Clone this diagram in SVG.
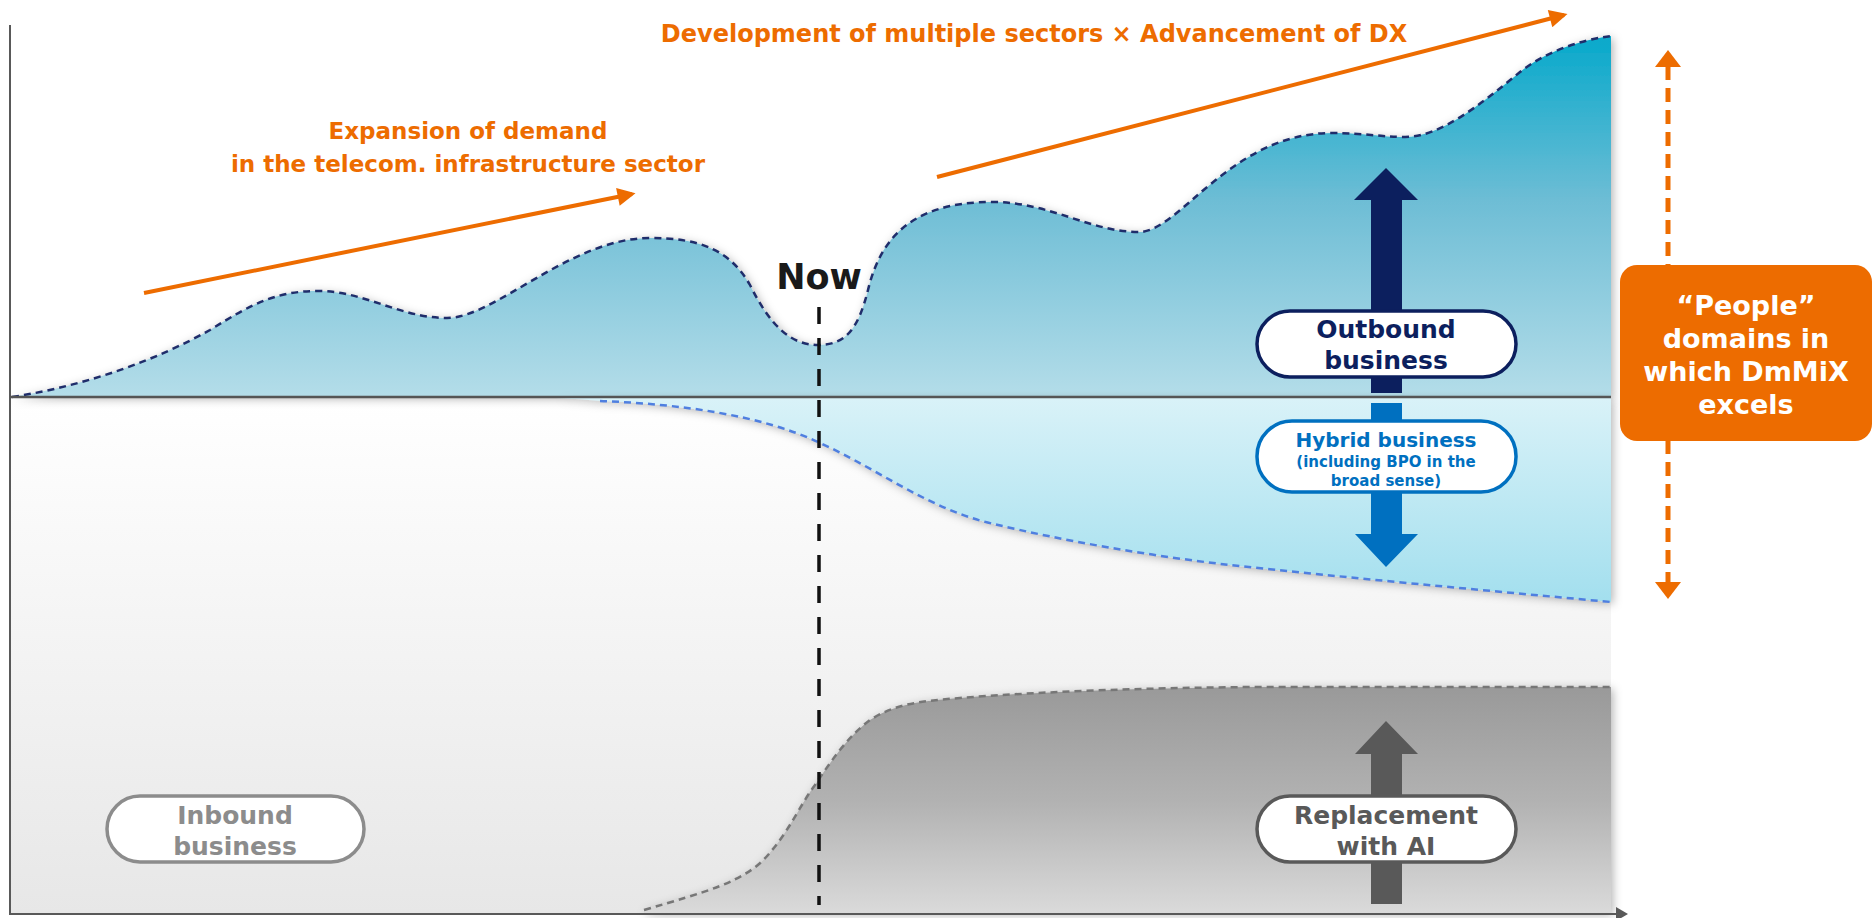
<svg xmlns="http://www.w3.org/2000/svg" width="1873" height="918" viewBox="0 0 1873 918">
<style>
text{font-family:"DejaVu Sans","Liberation Sans",sans-serif;font-weight:bold}
.orange{fill:#ed6c00}
.node-text{font-size:25px;text-anchor:middle}
.pill{fill:#ffffff;stroke-width:3.5}
.axis{stroke:#595959;stroke-width:2;fill:none}
</style>
<defs>
<linearGradient id="gUp" gradientUnits="userSpaceOnUse" x1="0" y1="38" x2="0" y2="397">
<stop offset="0" stop-color="#08a9cb"/>
<stop offset="0.45" stop-color="#6dbdd5"/>
<stop offset="1" stop-color="#b4dde9"/>
</linearGradient>
<linearGradient id="gHyb" gradientUnits="userSpaceOnUse" x1="0" y1="398" x2="0" y2="602">
<stop offset="0" stop-color="#d9f2f8"/>
<stop offset="1" stop-color="#a3dfee"/>
</linearGradient>
<linearGradient id="gBg" gradientUnits="userSpaceOnUse" x1="0" y1="398" x2="0" y2="914">
<stop offset="0" stop-color="#ffffff"/>
<stop offset="1" stop-color="#e7e7e7"/>
</linearGradient>
<linearGradient id="gGray" gradientUnits="userSpaceOnUse" x1="0" y1="690" x2="0" y2="913">
<stop offset="0" stop-color="#9a9a9a"/>
<stop offset="0.5" stop-color="#b2b2b2"/>
<stop offset="1" stop-color="#dadada"/>
</linearGradient>
<filter id="shadow" x="-5%" y="-10%" width="110%" height="120%">
<feGaussianBlur in="SourceAlpha" stdDeviation="5"/>
<feOffset dx="2" dy="2" result="b"/>
<feFlood flood-color="#000000" flood-opacity="0.3"/>
<feComposite in2="b" operator="in"/>
<feMerge><feMergeNode/><feMergeNode in="SourceGraphic"/></feMerge>
</filter>
<marker id="arrO" viewBox="0 0 10 10" refX="8" refY="5" markerWidth="5" markerHeight="4.5" orient="auto" markerUnits="strokeWidth">
<path d="M0,0 L10,5 L0,10 Z" fill="#ed6c00"/>
</marker>
</defs>

<g id="background">
<rect x="10" y="398" width="1601" height="516" fill="url(#gBg)"/>
</g>

<g id="outbound-area">
<path filter="url(#shadow)" fill="url(#gUp)" d="M12,397 C90,385 160,358 210,330 C250,305 275,291 318,291 C365,291 400,318 447,318 C495,318 570,238 650,238 C700,238 730,250 750,285 C770,325 790,345 818,345 C845,345 858,330 868,290 C880,240 910,202 992,202 C1050,202 1090,232 1139,232 C1180,232 1230,133 1332,133 C1365,133 1380,137 1405,137 C1440,137 1480,105 1520,72 C1545,52 1580,40 1611,36 L1611,397 Z"/>
<path fill="none" stroke="#1f2d6b" stroke-width="2.5" stroke-dasharray="7 5" d="M12,397 C90,385 160,358 210,330 C250,305 275,291 318,291 C365,291 400,318 447,318 C495,318 570,238 650,238 C700,238 730,250 750,285 C770,325 790,345 818,345 C845,345 858,330 868,290 C880,240 910,202 992,202 C1050,202 1090,232 1139,232 C1180,232 1230,133 1332,133 C1365,133 1380,137 1405,137 C1440,137 1480,105 1520,72 C1545,52 1580,40 1611,36"/>
</g>

<g id="hybrid-area">
<path filter="url(#shadow)" fill="url(#gHyb)" d="M540,398 C570,398 585,400 600,401 C680,404 760,415 818,442 C880,470 930,510 994,524 C1060,540 1150,556 1230,565 C1350,578 1480,590 1611,602 L1611,398 Z"/>
<path fill="none" stroke="#4f7fe0" stroke-width="2.5" stroke-dasharray="7 5" d="M600,401 C680,404 760,415 818,442 C880,470 930,510 994,524 C1060,540 1150,556 1230,565 C1350,578 1480,590 1611,602"/>
</g>

<g id="ai-area">
<path filter="url(#shadow)" fill="url(#gGray)" d="M644,910 C705,892 745,882 768,855 C790,830 800,805 815,785 C835,755 850,735 870,720 C895,704 920,701 960,698 C1050,691 1150,688 1250,687 L1611,687 L1611,913 L644,913 Z"/>
<path fill="none" stroke="#777777" stroke-width="2.5" stroke-dasharray="7 5" d="M644,910 C705,892 745,882 768,855 C790,830 800,805 815,785 C835,755 850,735 870,720 C895,704 920,701 960,698 C1050,691 1150,688 1250,687 L1611,687"/>
</g>

<g id="axes">
<line class="axis" x1="10" y1="25" x2="10" y2="915"/>
<line class="axis" x1="10" y1="914" x2="1618" y2="914"/>
<path d="M1616,907 L1628,914 L1616,921 Z" fill="#595959"/>
<line x1="10" y1="397" x2="1611" y2="397" stroke="#555555" stroke-width="2.5"/>
</g>

<g id="now">
<line x1="819" y1="307" x2="819" y2="905" stroke="#111111" stroke-width="3.5" stroke-dasharray="17 14"/>
<text x="819" y="289" font-size="35" text-anchor="middle" fill="#1a1a1a">Now</text>
</g>

<g id="connectors">
<line x1="144" y1="293" x2="632" y2="194" stroke="#ed6c00" stroke-width="4" marker-end="url(#arrO)"/>
<line x1="937" y1="177" x2="1564" y2="15" stroke="#ed6c00" stroke-width="4" marker-end="url(#arrO)"/>
<path d="M1371,393 L1371,200 L1354,200 L1386,168 L1418,200 L1402,200 L1402,393 Z" fill="#0c1f5e"/>
<path d="M1371,403 L1402,403 L1402,534 L1418,534 L1386,567 L1355,534 L1371,534 Z" fill="#0070c0"/>
<path d="M1371,904 L1371,754 L1355,754 L1386,721 L1418,754 L1402,754 L1402,904 Z" fill="#595959"/>
<line x1="1668" y1="66" x2="1668" y2="582" stroke="#ed6c00" stroke-width="5" stroke-dasharray="14 8"/>
<path d="M1655,67 L1668,50 L1681,67 Z" fill="#ed6c00"/>
<path d="M1655,582 L1668,599 L1681,582 Z" fill="#ed6c00"/>
</g>

<g id="label-demand">
<text class="orange" x="468" y="139" font-size="23" text-anchor="middle">Expansion of demand</text>
<text class="orange" x="468" y="172" font-size="23" text-anchor="middle">in the telecom. infrastructure sector</text>
</g>

<g id="label-dx">
<text class="orange" x="1034" y="42" font-size="24" text-anchor="middle">Development of multiple sectors × Advancement of DX</text>
</g>

<g id="node-outbound">
<rect class="pill" x="1257" y="311" width="259" height="66" rx="33" stroke="#0c1f5e"/>
<text class="node-text" x="1386" y="338" fill="#0c1f5e">Outbound</text>
<text class="node-text" x="1386" y="369" fill="#0c1f5e">business</text>
</g>

<g id="node-hybrid">
<rect class="pill" x="1257" y="421" width="259" height="71" rx="35" stroke="#0070c0"/>
<text x="1386" y="447" font-size="20" text-anchor="middle" fill="#0070c0">Hybrid business</text>
<text x="1386" y="467" font-size="15" text-anchor="middle" fill="#0070c0">(including BPO in the</text>
<text x="1386" y="486" font-size="15" text-anchor="middle" fill="#0070c0">broad sense)</text>
</g>

<g id="node-replacement">
<rect class="pill" x="1257" y="796" width="259" height="66" rx="33" stroke="#595959"/>
<text class="node-text" x="1386" y="824" fill="#595959">Replacement</text>
<text class="node-text" x="1386" y="855" fill="#595959">with AI</text>
</g>

<g id="node-inbound">
<rect class="pill" x="107" y="796" width="257" height="66" rx="33" stroke="#8c8c8c"/>
<text class="node-text" x="235" y="824" fill="#8c8c8c">Inbound</text>
<text class="node-text" x="235" y="855" fill="#8c8c8c">business</text>
</g>

<g id="node-people">
<rect x="1620" y="265" width="252" height="176" rx="17" fill="#ed6c00"/>
<text x="1746" y="315" font-size="27" text-anchor="middle" fill="#ffffff">“People”</text>
<text x="1746" y="348" font-size="27" text-anchor="middle" fill="#ffffff">domains in</text>
<text x="1746" y="381" font-size="27" text-anchor="middle" fill="#ffffff">which DmMiX</text>
<text x="1746" y="414" font-size="27" text-anchor="middle" fill="#ffffff">excels</text>
</g>
</svg>
